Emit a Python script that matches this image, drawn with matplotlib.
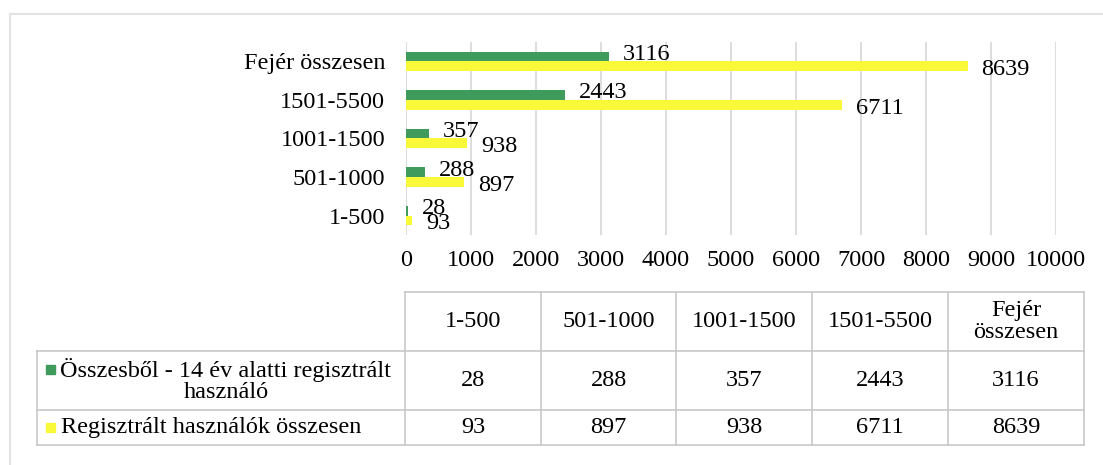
import matplotlib
matplotlib.use("Agg")
import matplotlib.pyplot as plt
import numpy as np

# data
categories = ["1-500", "501-1000", "1001-1500", "1501-5500", "Fejér összesen"]
under14 = [28, 288, 357, 2443, 3116]
total = [93, 897, 938, 6711, 8639]
series_names = ["Összesből - 14 év alatti regisztrált\nhasználó",
                "Regisztrált használók összesen"]
table_headers = ["1-500", "501-1000", "1001-1500", "1501-5500", "Fejér\nösszesen"]
xticks = list(range(0, 10001, 1000))

GREEN = "#3f9b5c"
YELLOW = "#f9f93a"
GRID = "#dadada"
TABLE_LINE = "#c8c8c8"

plt.rcParams["font.family"] = ["Liberation Serif", "DejaVu Serif"]
FS = 17.5

W, H = 1103, 465
fig = plt.figure(figsize=(W / 100, H / 100), dpi=100)


def fx(px):
    return px / W


def fy(py):
    return 1 - py / H


# bar chart area (pixel box 406..1056 x 42..235)
ax = fig.add_axes([fx(406), fy(235), fx(1056) - fx(406), fy(42) - fy(235)])
y = np.arange(len(categories))
h = 0.25
b1 = ax.barh(y + h / 2, under14, height=h, color=GREEN, zorder=3)
b2 = ax.barh(y - h / 2, total, height=h, color=YELLOW, zorder=3)
# green labels sit a little high, yellow ones a little low
for bars, dy in ((b1, 1.5), (b2, -2.5)):
    for rect in bars:
        w = rect.get_width()
        ax.annotate(f"{int(w)}", (w, rect.get_y() + rect.get_height() / 2),
                    xytext=(10, dy), textcoords="offset points",
                    ha="left", va="center", fontsize=FS, zorder=4)

ax.set_xlim(0, 10000)
ax.set_ylim(-0.5, len(categories) - 0.5)
ax.set_xticks(xticks)
ax.set_xticklabels([str(t) for t in xticks], fontsize=FS)
ax.set_yticks(y)
ax.set_yticklabels(categories, fontsize=FS)
ax.tick_params(axis="x", length=0, pad=11)
ax.tick_params(axis="y", length=0, pad=15)
ax.grid(axis="x", color=GRID, linewidth=1.3, zorder=0)
for s in ax.spines.values():
    s.set_visible(False)

# overlay in pixel coordinates for the table and the outer frame
ov = fig.add_axes([0, 0, 1, 1])
ov.set_xlim(0, W)
ov.set_ylim(H, 0)
ov.axis("off")
ov.patch.set_alpha(0)

ov.plot([10, 10], [14, H], color="#e3e3e3", lw=1.5)
ov.plot([10, W], [14, 14], color="#e3e3e3", lw=1.5)

col_edges = [405, 541, 676, 812, 948, 1084]
row_edges = [292, 351, 410, 445]
left = 37
lk = dict(color=TABLE_LINE, lw=1.2)
ov.plot([col_edges[0], col_edges[-1]], [row_edges[0]] * 2, **lk)
for ry in row_edges[1:]:
    ov.plot([left, col_edges[-1]], [ry, ry], **lk)
for cx in col_edges:
    ov.plot([cx, cx], [row_edges[0], row_edges[-1]], **lk)
ov.plot([left, left], [row_edges[1], row_edges[-1]], **lk)

for i, hdr in enumerate(table_headers):
    cx = (col_edges[i] + col_edges[i + 1]) / 2
    ov.text(cx, (row_edges[0] + row_edges[1]) / 2, hdr, ha="center", va="center",
            fontsize=FS, linespacing=1.05)
    ov.text(cx, (row_edges[1] + row_edges[2]) / 2, str(under14[i]), ha="center",
            va="center", fontsize=FS)
    ov.text(cx, (row_edges[2] + row_edges[3]) / 2, str(total[i]), ha="center",
            va="center", fontsize=FS)

# legend keys inside the table
r1 = (row_edges[1] + row_edges[2]) / 2
r2 = (row_edges[2] + row_edges[3]) / 2
ov.add_patch(plt.Rectangle((46, 365), 9, 9, color=GREEN))
ov.text(226, r1, series_names[0], ha="center", va="center", fontsize=FS,
        linespacing=1.05, multialignment="center")
ov.add_patch(plt.Rectangle((46, r2 - 4.5), 9, 9, color=YELLOW))
ov.text(61, r2, series_names[1], ha="left", va="center", fontsize=FS)

fig.savefig("out.png", dpi=100)
